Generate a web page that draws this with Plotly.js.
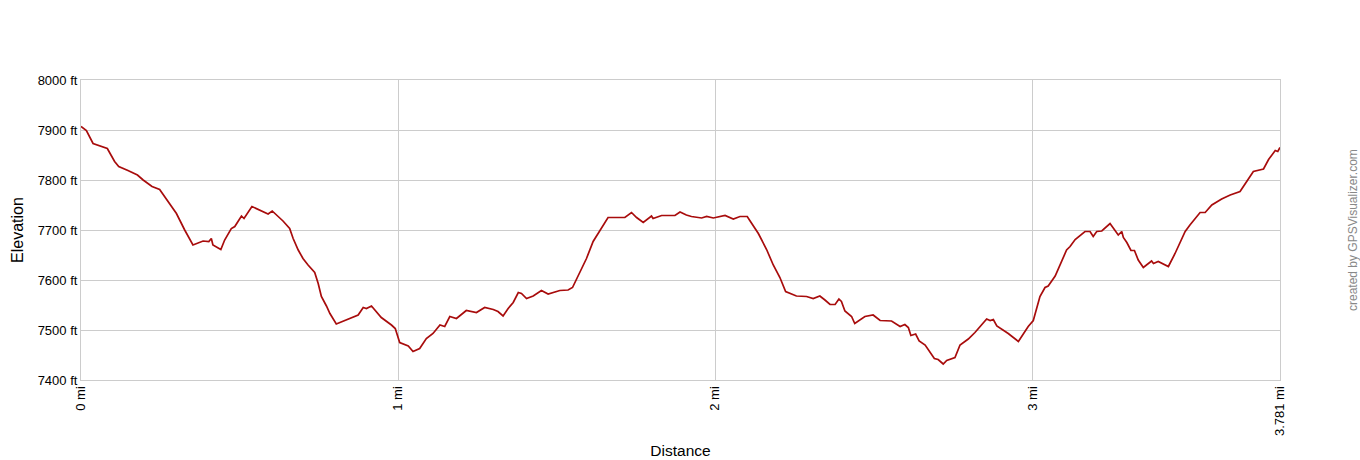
<!DOCTYPE html>
<html>
<head>
<meta charset="utf-8">
<script src="https://cdn.plot.ly/plotly-3.0.1.min.js"></script>
<style>html,body{margin:0;padding:0;background:#fff;}#chart{width:1360px;height:460px;}</style>
</head>
<body>
<div id="chart"></div>
<script>
const distanceMi = [0,0.017,0.038,0.064,0.083,0.106,0.119,0.148,0.178,0.196,0.224,0.248,0.274,0.301,0.327,0.353,0.385,0.403,0.411,0.416,0.441,0.453,0.474,0.485,0.506,0.514,0.539,0.564,0.590,0.603,0.616,0.637,0.658,0.669,0.685,0.700,0.716,0.737,0.748,0.758,0.774,0.785,0.805,0.837,0.874,0.890,0.900,0.916,0.932,0.947,0.979,0.991,1.005,1.032,1.047,1.068,1.089,1.110,1.132,1.147,1.163,1.184,1.215,1.247,1.273,1.300,1.315,1.331,1.347,1.363,1.379,1.389,1.405,1.426,1.452,1.473,1.510,1.536,1.550,1.568,1.594,1.615,1.641,1.662,1.715,1.736,1.752,1.773,1.799,1.804,1.831,1.873,1.889,1.909,1.925,1.957,1.973,1.994,2.031,2.057,2.078,2.101,2.109,2.136,2.162,2.183,2.204,2.222,2.256,2.288,2.309,2.330,2.346,2.362,2.378,2.390,2.398,2.409,2.430,2.440,2.472,2.498,2.520,2.556,2.583,2.598,2.609,2.617,2.632,2.643,2.662,2.691,2.703,2.719,2.730,2.756,2.772,2.798,2.819,2.845,2.856,2.867,2.877,2.888,2.924,2.956,2.987,3.003,3.024,3.040,3.050,3.072,3.108,3.119,3.135,3.166,3.182,3.192,3.203,3.219,3.245,3.271,3.282,3.287,3.298,3.311,3.322,3.334,3.350,3.376,3.382,3.397,3.429,3.450,3.482,3.497,3.513,3.529,3.545,3.566,3.597,3.624,3.655,3.676,3.697,3.729,3.745,3.766,3.774,3.781];
const elevationFt = [7907,7899,7873,7868,7863,7837,7827,7819,7810,7800,7787,7781,7757,7733,7700,7670,7678,7677,7683,7670,7661,7680,7703,7707,7728,7723,7747,7740,7732,7738,7731,7718,7703,7683,7660,7643,7630,7615,7593,7567,7548,7533,7512,7521,7530,7545,7543,7548,7537,7525,7510,7503,7475,7468,7457,7463,7483,7493,7510,7507,7527,7523,7539,7535,7545,7541,7537,7528,7543,7555,7575,7573,7563,7568,7579,7572,7579,7580,7585,7610,7643,7677,7703,7725,7725,7735,7725,7715,7728,7723,7729,7729,7736,7730,7727,7724,7727,7724,7729,7722,7727,7727,7719,7693,7661,7630,7605,7577,7568,7567,7563,7568,7560,7551,7551,7562,7557,7538,7527,7513,7527,7530,7519,7518,7507,7511,7505,7489,7492,7478,7470,7443,7441,7432,7439,7445,7470,7482,7495,7513,7522,7519,7521,7508,7493,7477,7507,7519,7567,7585,7588,7608,7660,7667,7681,7697,7697,7687,7697,7698,7713,7690,7697,7685,7675,7659,7659,7640,7625,7638,7633,7637,7627,7653,7697,7710,7723,7735,7735,7750,7762,7770,7777,7797,7817,7822,7841,7859,7857,7865];
const xTickVals = [0, 1, 2, 3, 3.781];
const xTickText = ["0 mi", "1 mi", "2 mi", "3 mi", "3.781 mi"];
const yTickVals = [7400, 7500, 7600, 7700, 7800, 7900, 8000];
const yTickText = ["7400 ft", "7500 ft", "7600 ft", "7700 ft", "7800 ft", "7900 ft", "8000 ft"];

const FONT = "Arial, 'Liberation Sans', sans-serif";
const trace = {
  x: distanceMi, y: elevationFt, type: "scatter", mode: "lines",
  line: {color: "#a80c0c", width: 1.7}, hoverinfo: "skip"
};
const layout = {
  width: 1360, height: 460,
  margin: {l: 81, r: 80, t: 80, b: 80},
  paper_bgcolor: "#fff", plot_bgcolor: "#fff",
  showlegend: false,
  font: {family: FONT, color: "#000", size: 13},
  xaxis: {
    range: [0, 3.781], tickmode: "array", tickvals: xTickVals, ticktext: xTickText,
    tickangle: -90, showgrid: true, gridcolor: "#cccccc", gridwidth: 1,
    showline: true, linecolor: "#cccccc", mirror: true, zeroline: false,
    ticks: "", tickfont: {size: 13, family: FONT},
    title: {text: "Distance", font: {size: 15.5, family: FONT}, standoff: 10},
    automargin: false, fixedrange: true
  },
  yaxis: {
    range: [7400, 8000], tickmode: "array", tickvals: yTickVals, ticktext: yTickText,
    showgrid: true, gridcolor: "#cccccc", gridwidth: 1,
    showline: true, linecolor: "#cccccc", mirror: true, zeroline: false,
    ticks: "", ticklen: 0, tickfont: {size: 13, family: FONT},
    title: {text: "Elevation", font: {size: 16, family: FONT}, standoff: 10},
    automargin: false, fixedrange: true
  },
  annotations: [{
    text: "created by GPSVisualizer.com", xref: "paper", yref: "paper",
    x: 1, xshift: 73, y: 0.5, textangle: -90, showarrow: false,
    font: {size: 12, color: "#888888", family: FONT}, xanchor: "center", yanchor: "middle"
  }]
};
Plotly.newPlot("chart", [trace], layout, {displayModeBar: false, staticPlot: true});
</script>
</body>
</html>
